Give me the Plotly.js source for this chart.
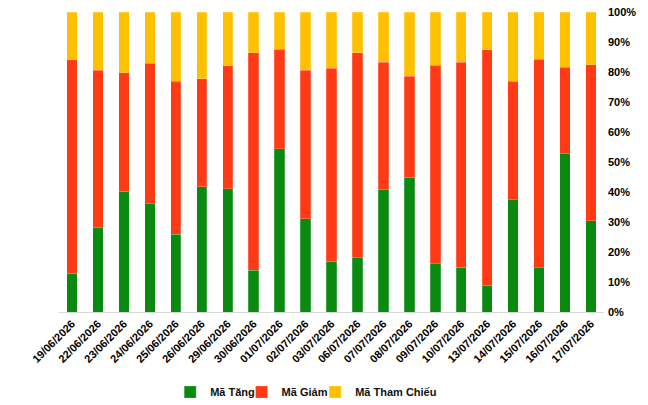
<!DOCTYPE html>
<html>
<head>
<meta charset="utf-8">
<script src="https://cdn.plot.ly/plotly-3.0.1.min.js"></script>
<style>
  html, body { margin: 0; padding: 0; background: #fff; }
  #chart { width: 648px; height: 405px; }
</style>
</head>
<body>
<div id="chart"></div>
<script>
const ngay = [
  '19/06/2026', '22/06/2026', '23/06/2026', '24/06/2026', '25/06/2026',
  '26/06/2026', '29/06/2026', '30/06/2026', '01/07/2026', '02/07/2026',
  '03/07/2026', '06/07/2026', '07/07/2026', '08/07/2026', '09/07/2026',
  '10/07/2026', '13/07/2026', '14/07/2026', '15/07/2026', '16/07/2026',
  '17/07/2026'
];

// ty le (%) ma tang / giam / tham chieu
const maTang = [13.0, 28.3, 40.2, 36.1, 25.9, 41.7, 41.1, 13.9, 54.5, 31.1, 16.9,
  18.1, 40.8, 45.0, 16.1, 15.0, 8.9, 37.5, 14.7, 52.7, 30.5];
const maGiam = [71.1, 52.3, 39.6, 46.9, 51.1, 36.0, 41.0, 72.6, 33.1, 49.5, 64.4,
  68.4, 42.4, 33.6, 66.1, 68.2, 78.6, 39.5, 69.5, 28.9, 52.0];
const maThamChieu = [15.9, 19.4, 20.2, 17.0, 23.0, 22.3, 17.9, 13.5, 12.4, 19.4, 18.7,
  13.5, 16.8, 21.4, 17.8, 16.8, 12.5, 23.0, 15.8, 18.4, 17.5];

const yTicks = [0, 10, 20, 30, 40, 50, 60, 70, 80, 90, 100];
const yTickText = yTicks.map(v => v + '%');

function taoCot(ten, giaTri, mau, legend) {
  return {
    x: ngay,
    y: giaTri,
    type: 'bar',
    name: ten,
    legend: legend,
    marker: { color: mau, line: { color: 'rgba(255,255,255,0.35)', width: 0.6 } },
    hoverinfo: 'y+name'
  };
}

const traces = [
  taoCot('Mã Tăng', maTang, '#0B8A11', 'legend'),
  taoCot('Mã Giảm', maGiam, '#FF3A14', 'legend2'),
  taoCot('Mã Tham Chiếu', maThamChieu, '#FFC000', 'legend3')
];

// moi muc chu giai la mot legend rieng de dat sat nhau
function taoLegend(x) {
  return {
    orientation: 'h',
    x: x,
    xanchor: 'left',
    yref: 'container',
    y: 0.032,
    yanchor: 'middle',
    font: { size: 11, weight: 'bold', color: '#111' },
    itemwidth: 30,
    bgcolor: 'rgba(0,0,0,0)'
  };
}

const layout = {
  width: 648,
  height: 405,
  barmode: 'stack',
  bargap: 0.6,
  paper_bgcolor: '#ffffff',
  plot_bgcolor: '#ffffff',
  font: { family: '"Liberation Sans", Arial, sans-serif', color: '#000', size: 11 },
  margin: { l: 59, r: 44, t: 12, b: 93 },
  showlegend: true,
  legend: taoLegend(0.204),
  legend2: taoLegend(0.335),
  legend3: taoLegend(0.470),
  xaxis: {
    type: 'category',
    tickangle: -45,
    tickfont: { size: 11, weight: 'bold' },
    showgrid: false,
    showline: true,
    linecolor: '#d9d9d9',
    linewidth: 1,
    ticks: '',
    automargin: false,
    fixedrange: true
  },
  yaxis: {
    side: 'right',
    range: [0, 100],
    tickmode: 'array',
    tickvals: yTicks,
    ticktext: yTickText,
    tickfont: { size: 11, weight: 'bold' },
    ticklabelstandoff: 3,
    showgrid: false,
    zeroline: false,
    showline: false,
    ticks: '',
    automargin: false,
    fixedrange: true
  }
};

Plotly.newPlot('chart', traces, layout, { displayModeBar: false, staticPlot: true });
</script>
</body>
</html>
